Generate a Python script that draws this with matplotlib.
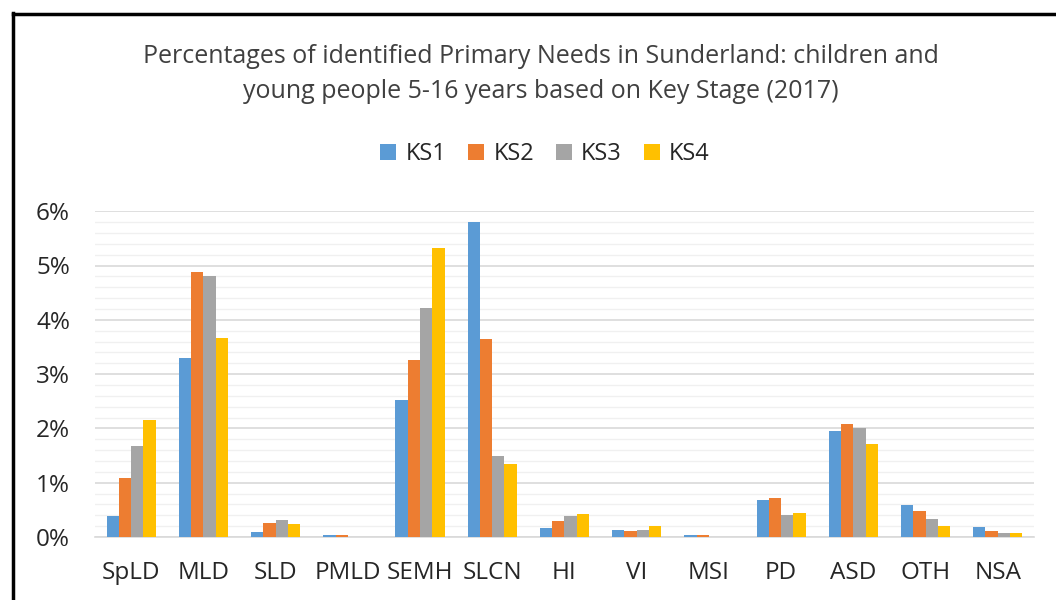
import numpy as np
import matplotlib
matplotlib.use("Agg")
import matplotlib.pyplot as plt
from matplotlib.lines import Line2D
from matplotlib.ticker import FuncFormatter, MultipleLocator

# ---------- DATA ----------
CATEGORIES = ["SpLD", "MLD", "SLD", "PMLD", "SEMH", "SLCN", "HI", "VI",
              "MSI", "PD", "ASD", "OTH", "NSA"]
KS1 = [0.39, 3.29, 0.09, 0.03, 2.53, 5.81, 0.16, 0.13, 0.03, 0.69, 1.95, 0.59, 0.19]
KS2 = [1.09, 4.88, 0.26, 0.03, 3.26, 3.64, 0.29, 0.11, 0.03, 0.72, 2.08, 0.47, 0.11]
KS3 = [1.67, 4.80, 0.31, 0.00, 4.22, 1.50, 0.39, 0.13, 0.00, 0.41, 2.00, 0.34, 0.08]
KS4 = [2.15, 3.67, 0.24, 0.00, 5.33, 1.35, 0.42, 0.21, 0.00, 0.44, 1.71, 0.21, 0.08]
SERIES_NAMES = ["KS1", "KS2", "KS3", "KS4"]
COLORS = ["#5B9BD5", "#ED7D31", "#A5A5A5", "#FFC000"]
TITLE = ("Percentages of identified Primary Needs in Sunderland: children and\n"
         "young people 5-16 years based on Key Stage (2017)")
# ---------------------------

plt.rcParams["font.family"] = ["Open Sans", "DejaVu Sans"]

fig = plt.figure(figsize=(10.56, 6.0), dpi=100)
ax = fig.add_axes([0.090, 0.105, 0.889, 0.543])

series = [KS1, KS2, KS3, KS4]
x = np.arange(len(CATEGORIES))
bar_w = 0.17
for k, (vals, name, col) in enumerate(zip(series, SERIES_NAMES, COLORS)):
    offset = (k - 1.5) * bar_w
    ax.bar(x + offset, vals, bar_w, color=col, label=name, zorder=3)

ax.set_xlim(-0.5, len(CATEGORIES) - 0.5)
ax.set_ylim(0, 6)
ax.yaxis.set_major_locator(MultipleLocator(1))
ax.yaxis.set_minor_locator(MultipleLocator(0.2))
ax.yaxis.set_major_formatter(FuncFormatter(lambda v, p: f"{v:.0f}%"))
ax.grid(axis="y", which="major", color="#d9d9d9", linewidth=1.2, zorder=0)
ax.grid(axis="y", which="minor", color="#f0f0f0", linewidth=1.0, zorder=0)

ax.set_xticks(x)
ax.set_xticklabels(CATEGORIES)
ax.tick_params(axis="x", length=0, pad=17, labelsize=17.5, colors="#262626")
ax.tick_params(axis="y", which="both", length=0, pad=18, labelsize=17.5,
               colors="#262626")
for side in ["top", "right", "left"]:
    ax.spines[side].set_visible(False)
ax.spines["bottom"].set_color("#d9d9d9")
ax.spines["bottom"].set_linewidth(1.2)

fig.text(0.512, 0.877, TITLE, ha="center", va="center", fontsize=18,
         color="#404040", linespacing=1.5)

fig.legend(loc="center", bbox_to_anchor=(0.516, 0.743), ncol=4, frameon=False,
           fontsize=17, handlelength=0.68, handleheight=0.68, handletextpad=0.38,
           columnspacing=0.93, labelcolor="#262626")

# black frame (top and left edges of the chart border)
fig.add_artist(Line2D([13 / 1056, 1.0], [1 - 13.5 / 600] * 2,
                      transform=fig.transFigure, color="black", linewidth=2.5))
fig.add_artist(Line2D([13 / 1056] * 2, [0.0, 1 - 12.5 / 600],
                      transform=fig.transFigure, color="black", linewidth=2.5))

fig.savefig("out.png", dpi=100)
